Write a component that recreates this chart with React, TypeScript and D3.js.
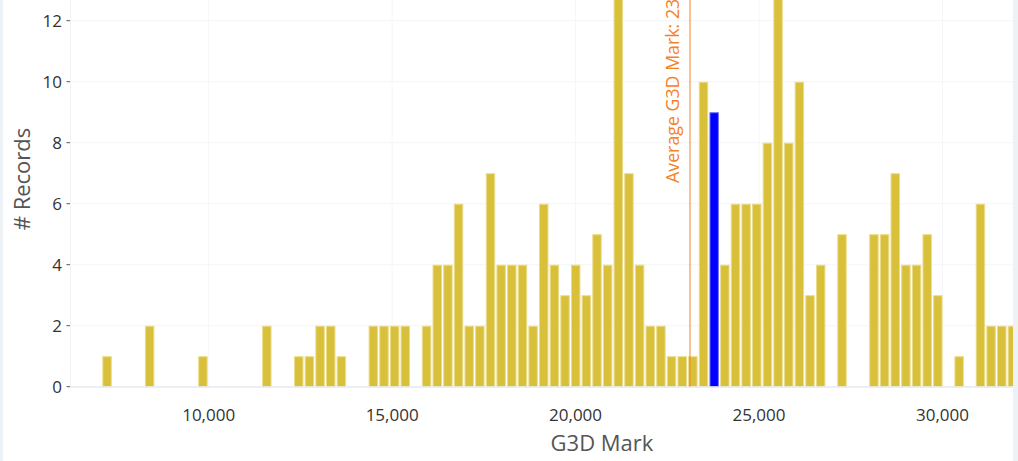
import React from "react";
import * as d3 from "d3";

// Histogram of G3D Mark (bin lower edge = binStart + i * binWidth)
const binStart = 7085;
const binWidth = 290.3;
const counts: number[] = [
  1, 0, 0, 0, 2, 0, 0, 0, 0, 1,
  0, 0, 0, 0, 0, 2, 0, 0, 1, 1,
  2, 2, 1, 0, 0, 2, 2, 2, 2, 0,
  2, 4, 4, 6, 2, 2, 7, 4, 4, 4,
  2, 6, 4, 3, 4, 3, 5, 4, 13, 7,
  4, 2, 2, 1, 1, 1, 10, 9, 4, 6,
  6, 6, 8, 13, 8, 10, 3, 4, 0, 5,
  0, 0, 5, 5, 7, 4, 4, 5, 3, 0,
  1, 0, 6, 2, 2, 2,
];
const highlightedBin = 57;
const averageMark = 23118;
const averageLabel = "Average G3D Mark: 23,118";
const xTicks = [10000, 15000, 20000, 25000, 30000];
const yTicks = [0, 2, 4, 6, 8, 10, 12];
const xTitle = "G3D Mark";
const yTitle = "# Records";

const W = 1018;
const H = 461;
const plotLeft = 70;
const plotRight = 1013;
const font = "'Open Sans', 'Noto Sans', sans-serif";

export default function App() {
  const x = d3.scaleLinear().domain([6220, 31922]).range([plotLeft, plotRight]);
  const y = d3.scaleLinear().domain([0, 12]).range([386.7, 20.7]);
  const fmt = d3.format(",");

  const bins = counts.map((c, i) => ({
    x0: binStart + i * binWidth,
    x1: binStart + (i + 1) * binWidth,
    c,
    i,
  }));

  return (
    <>
      <style>{`body{margin:0}`}</style>
      <svg width={W} height={H} style={{ display: "block", fontFamily: font }}>
        <rect x={0} y={0} width={W} height={H} fill="#ffffff" />
        <rect x={0} y={0} width={3} height={H} fill="#edf2f7" />
        <defs>
          <clipPath id="plot">
            <rect x={plotLeft} y={0} width={plotRight - plotLeft} height={390} />
          </clipPath>
        </defs>
        {/* grid */}
        {yTicks.map((t) => (
          <line key={"gy" + t} x1={plotLeft} x2={plotRight} y1={y(t)} y2={y(t)} stroke="#f4f5f7" strokeWidth={1} />
        ))}
        {xTicks.map((t) => (
          <line key={"gx" + t} x1={x(t)} x2={x(t)} y1={0} y2={y(0)} stroke="#f4f6f9" strokeWidth={1} />
        ))}
        <line x1={plotLeft + 0.5} x2={plotLeft + 0.5} y1={0} y2={y(0)} stroke="#eef2f7" />
        {/* bars */}
        <g clipPath="url(#plot)">
          {bins
            .filter((b) => b.c > 0)
            .map((b) => {
              const hl = b.i === highlightedBin;
              const bx = x(b.x0) + 1.1;
              const bw = x(b.x1) - x(b.x0) - 2.2;
              return (
                <rect
                  key={b.i}
                  x={bx}
                  y={y(b.c) + 0.5}
                  width={bw}
                  height={y(0) - y(b.c) - 0.5}
                  fill={hl ? "#0000ff" : "#d8c03a"}
                  stroke={hl ? "#7373ff" : "#ebdc8c"}
                  strokeWidth={1}
                />
              );
            })}
        </g>
        {/* baseline */}
        <line x1={plotLeft} x2={plotRight} y1={y(0) + 0.3} y2={y(0) + 0.3} stroke="#e5ebf2" strokeWidth={1.5} />
        {/* average line */}
        <line x1={x(averageMark)} x2={x(averageMark)} y1={0} y2={y(0)} stroke="#f5821f" strokeWidth={1} />
        <text
          transform={`translate(${x(averageMark) - 11},183) rotate(-90)`}
          fontSize={17.8}
          fill="#f5821f"
          textAnchor="start"
        >
          {averageLabel}
        </text>
        {/* y axis */}
        {yTicks.map((t) => (
          <g key={"yt" + t}>
            <line x1={66.5} x2={70} y1={y(t)} y2={y(t)} stroke="#555" strokeWidth={1} />
            <text x={62} y={y(t)} dy="0.35em" textAnchor="end" fontSize={17} fill="#333">
              {t}
            </text>
          </g>
        ))}
        {/* x axis labels */}
        {xTicks.map((t) => (
          <text key={"xt" + t} x={x(t)} y={415} dy="0.35em" textAnchor="middle" fontSize={17} fill="#333">
            {fmt(t)}
          </text>
        ))}
        <text x={602} y={451} textAnchor="middle" fontSize={22} fill="#555">
          {xTitle}
        </text>
        <text transform="translate(30,179) rotate(-90)" textAnchor="middle" fontSize={22} fill="#555">
          {yTitle}
        </text>
        <rect x={plotRight} y={0} width={W - plotRight} height={H} fill="#edf2f7" />
      </svg>
    </>
  );
}
